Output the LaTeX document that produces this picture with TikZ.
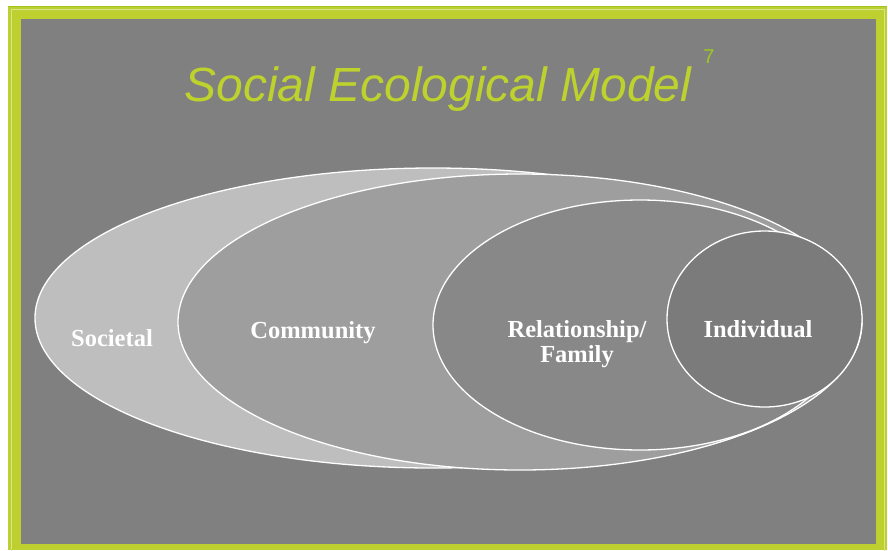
\documentclass[tikz,border=0pt]{standalone}
\usepackage{fontspec}
\setmainfont{Liberation Serif}
\newfontfamily\titlefont{Liberation Sans}
\usetikzlibrary{shapes.geometric}
\definecolor{bordergreen}{RGB}{189,208,48}
\definecolor{edgegreen}{RGB}{160,196,30}
\definecolor{paleline}{RGB}{214,228,140}
\definecolor{bgray}{RGB}{128,128,128}
\definecolor{titlegreen}{RGB}{190,210,46}
\definecolor{supgreen}{RGB}{160,200,30}
\definecolor{socfill}{RGB}{190,190,190}
\definecolor{comfill}{RGB}{158,158,158}
\definecolor{relfill}{RGB}{136,136,136}
\definecolor{indfill}{RGB}{123,123,123}
\tikzset{
  ring/.style={ellipse, draw=white, line width=1.3pt, inner sep=0pt, outer sep=0pt},
  lbl/.style={text=white, font=\bfseries\fontsize{24.5}{26}\selectfont, anchor=base, inner sep=0pt}
}
\begin{document}
\begin{tikzpicture}[x=1pt,y=-1pt]
\useasboundingbox (0,0) rectangle (888,550);
\fill[white] (0,0) rectangle (888,550);
\fill[bordergreen] (8,6) rectangle (887,550);
\draw[edgegreen, line width=0.8pt] (8.4,6.4) -- (886.6,6.4);
\draw[paleline, line width=0.9pt] (11.2,552) -- (11.2,9.6) -- (884.8,9.6) -- (884.8,552);
\fill[bgray] (21,19) rectangle (876,544);

\node[ring, fill=socfill, minimum width=796pt, minimum height=300pt] (soc) at (433,318) {};
\node[ring, fill=comfill, minimum width=684pt, minimum height=296pt] (com) at (520,322) {};
\node[ring, fill=relfill, minimum width=414pt, minimum height=250pt] (rel) at (640,325) {};
\node[ring, fill=indfill, minimum width=195pt, minimum height=176pt] (ind) at (764.5,319) {};

\node[anchor=base, inner sep=0pt, text=titlegreen, font=\titlefont\itshape\fontsize{48}{56}\selectfont] (title) at (438,101) {Social Ecological Model};
\node[anchor=base, inner sep=0pt, text=supgreen, font=\titlefont\fontsize{20}{24}\selectfont] (sup) at (709,63) {7};

\node[lbl] (soclbl) at (112,346) {Societal};
\node[lbl] (comlbl) at (313,338) {Community};
\node[lbl] (rellbl) at (577,337) {Relationship/};
\node[lbl] (famlbl) at (577,362) {Family};
\node[lbl] (indlbl) at (758,337) {Individual};
\end{tikzpicture}
\end{document}
